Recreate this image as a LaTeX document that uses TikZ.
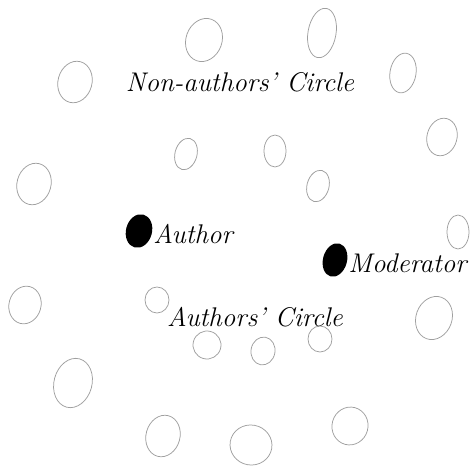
\documentclass[tikz,border=0pt]{standalone}
\usepackage{xcolor}
\usepackage{tikz}
\usetikzlibrary{positioning,shapes.geometric}

\begin{document}
\begin{tikzpicture}[
    x=1pt, y=-1pt,
    line width=0.75pt,
    seat/.style={ellipse, draw=gray!75, inner sep=0pt},
    taken/.style={ellipse, fill=black, inner sep=0pt},
    every node/.style={font=\itshape\fontsize{27}{30}\selectfont}
  ]
    \useasboundingbox (0,0) rectangle (471,466);
    % outer ring of seats
    \node[seat, minimum width=36pt, minimum height=44pt, rotate=-20] (s1) at (204,40) {};
    \node[seat, minimum width=28pt, minimum height=50pt, rotate=-10] (s2) at (322,33) {};
    \node[seat, minimum width=34pt, minimum height=42pt, rotate=-15] (s3) at (75,82) {};
    \node[seat, minimum width=26pt, minimum height=40pt, rotate=-10] (s4) at (403,73) {};
    \node[seat, minimum width=30pt, minimum height=38pt, rotate=-15] (s5) at (442,137) {};
    \node[seat, minimum width=34pt, minimum height=42pt, rotate=-15] (s6) at (34,184) {};
    \node[seat, minimum width=22pt, minimum height=34pt] (s7) at (458,232) {};
    \node[seat, minimum width=32pt, minimum height=38pt, rotate=-15] (s8) at (25,305) {};
    \node[seat, minimum width=36pt, minimum height=44pt, rotate=-20] (s9) at (434,318) {};
    \node[seat, minimum width=38pt, minimum height=50pt, rotate=-15] (s10) at (73,383) {};
    \node[seat, minimum width=34pt, minimum height=42pt, rotate=-15] (s11) at (163,436) {};
    \node[seat, minimum width=42pt, minimum height=40pt, rotate=-10] (s12) at (251,445) {};
    \node[seat, minimum width=36pt, minimum height=38pt, rotate=-15] (s13) at (350,426) {};
    % inner ring of seats
    \node[seat, minimum width=22pt, minimum height=32pt, rotate=-15] (i1) at (186,154) {};
    \node[seat, minimum width=22pt, minimum height=32pt] (i2) at (275,151) {};
    \node[seat, minimum width=22pt, minimum height=32pt, rotate=-15] (i3) at (318,186) {};
    \node[seat, minimum width=24pt, minimum height=26pt] (i4) at (157,300) {};
    \node[seat, minimum width=28pt, minimum height=28pt, rotate=-15] (i5) at (207,345) {};
    \node[seat, minimum width=24pt, minimum height=28pt, rotate=-10] (i6) at (263,351) {};
    \node[seat, minimum width=24pt, minimum height=26pt] (i7) at (320,339) {};
    % taken seats
    \node[taken, minimum width=26pt, minimum height=34pt, rotate=-15] (au) at (139,231) {};
    \node[taken, minimum width=24pt, minimum height=34pt, rotate=-15] (mo) at (335,260) {};
    \node[right=1pt of au, inner sep=0pt] (aulab) {Author};
    \node[right=1pt of mo, inner sep=0pt] (molab) {Moderator};
    % circle names
    \node (outer) at (240,82) {Non-authors' Circle};
    \node (inner) at (255,317) {Authors' Circle};
  \end{tikzpicture}
\end{document}
